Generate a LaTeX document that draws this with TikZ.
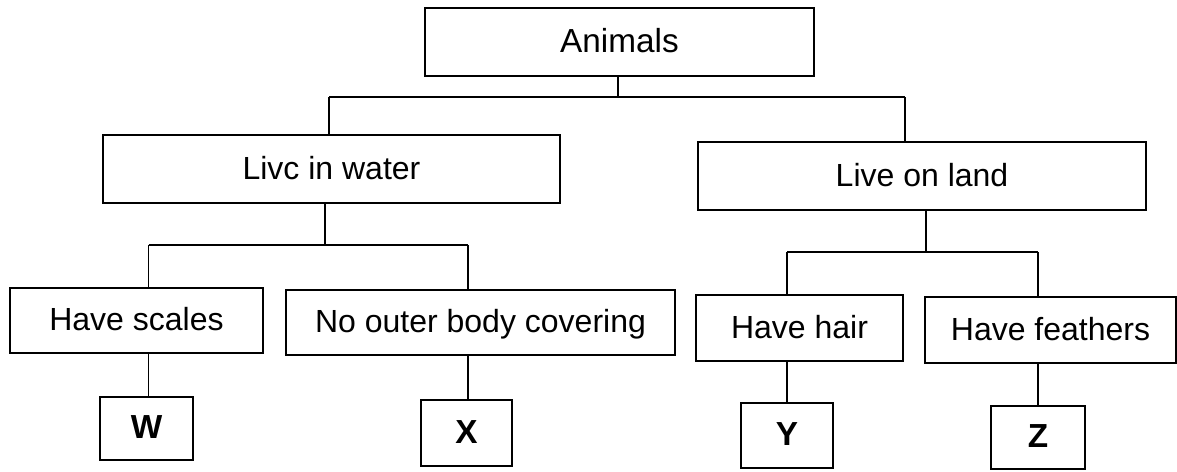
\documentclass[tikz,border=0pt]{standalone}
\usepackage{fontspec}
\setmainfont{Liberation Sans}
\begin{document}
\begin{tikzpicture}[x=0.75pt,y=-0.75pt,
  box/.style={draw=black,line width=1.1pt,rectangle,inner sep=0pt,text height=17pt,text depth=1.5pt,font=\fontsize{24}{28}\selectfont},
  letter/.style={box,font=\fontsize{25}{28}\selectfont\bfseries},
  link/.style={draw=black,line width=1.1pt}]
\useasboundingbox (0,0) rectangle (1177,471);
% level 0
\node[box,minimum width=389*0.75pt,minimum height=68*0.75pt,font=\fontsize{25}{28}\selectfont] (an) at (619.5,42) {Animals};
% level 1
\node[box,minimum width=457*0.75pt,minimum height=68*0.75pt] (lw) at (331.5,169) {Livc in water};
\node[box,minimum width=448*0.75pt,minimum height=68*0.75pt] (ll) at (922,176) {Live on land};
% level 2
\node[box,minimum width=253*0.75pt,minimum height=65*0.75pt] (hs) at (136.5,320.5) {Have scales};
\node[box,minimum width=389*0.75pt,minimum height=65*0.75pt] (no) at (480.5,322.5) {No outer body covering};
\node[box,minimum width=207*0.75pt,minimum height=66*0.75pt] (hh) at (799.5,328) {Have hair};
\node[box,minimum width=251*0.75pt,minimum height=66*0.75pt] (hf) at (1050.5,330) {Have feathers};
% level 3
\node[letter,minimum width=93*0.75pt,minimum height=63*0.75pt] (w) at (146.5,428.5) {W};
\node[letter,minimum width=91*0.75pt,minimum height=66*0.75pt] (x) at (466.5,433) {X};
\node[letter,minimum width=92*0.75pt,minimum height=65*0.75pt] (y) at (787,435.5) {Y};
\node[letter,minimum width=94*0.75pt,minimum height=63*0.75pt] (z) at (1038,437.5) {Z};
% junction coordinates
\coordinate (a0) at (618,97);
\coordinate (a1) at (329,97);
\coordinate (a2) at (905,97);
\coordinate (b0) at (325,245);
\coordinate (b1) at (148.5,245);
\coordinate (b2) at (468,245);
\coordinate (c0) at (926,252);
\coordinate (c1) at (787,252);
\coordinate (c2) at (1038,252);
% connectors
\draw[link] (an.south -| a0) -- (a0);
\draw[link] (a1) -- (a2);
\draw[link] (a1) -- (a1 |- lw.north);
\draw[link] (a2) -- (a2 |- ll.north);
\draw[link] (lw.south -| b0) -- (b0);
\draw[link] (b1) -- (b2);
\draw[link] (b1) -- (b1 |- hs.north);
\draw[link] (b2) -- (b2 |- no.north);
\draw[link] (ll.south -| c0) -- (c0);
\draw[link] (c1) -- (c2);
\draw[link] (c1) -- (c1 |- hh.north);
\draw[link] (c2) -- (c2 |- hf.north);
\draw[link] (hs.south -| b1) -- (b1 |- w.north);
\draw[link] (no.south -| b2) -- (b2 |- x.north);
\draw[link] (hh.south -| c1) -- (c1 |- y.north);
\draw[link] (hf.south -| c2) -- (c2 |- z.north);
\end{tikzpicture}
\end{document}
